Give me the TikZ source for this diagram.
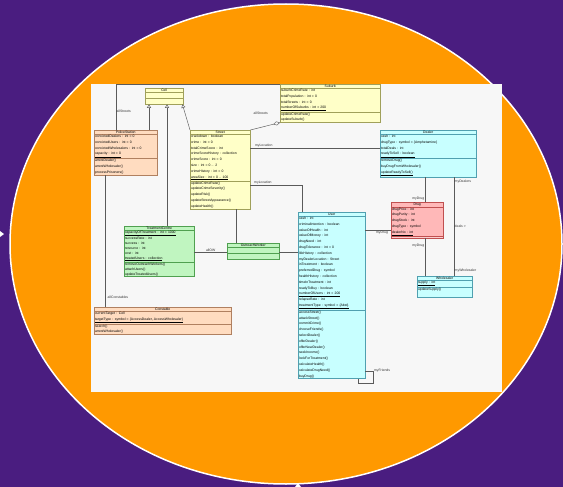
\documentclass[tikz,border=0pt]{standalone}
\usepackage{fontspec}
\newfontfamily\umlsans{Liberation Sans}
\usetikzlibrary{shapes.multipart,arrows.meta}
\definecolor{bgpurple}{RGB}{74,29,128}
\definecolor{ovalorange}{RGB}{255,153,0}
\definecolor{imgbg}{RGB}{247,247,247}
\definecolor{linegray}{RGB}{90,90,90}
\newcommand\umlfont{\umlsans\fontsize{3.4}{5.8}\selectfont}
\newcommand\umldense{\umlsans\fontsize{3.4}{4.9}\selectfont}
\newcommand\umltitle[1]{\makebox[\hsize]{#1}}

\begin{document}
\begin{tikzpicture}[x=1pt,y=-1pt,
    umlclass/.style={rectangle split, rectangle split parts=3, draw, line width=0.4pt,
        anchor=north west, inner xsep=0.8pt, inner ysep=0.6pt, font=\umlfont,
        align=left, text width=#1, rectangle split empty part height=2pt},
    yellowbox/.style={fill={rgb,255:red,255;green,255;blue,200}, draw={rgb,255:red,160;green,160;blue,90}},
    peachbox/.style={fill={rgb,255:red,255;green,220;blue,192}, draw={rgb,255:red,176;green,128;blue,96}},
    cyanbox/.style={fill={rgb,255:red,200;green,255;blue,255}, draw={rgb,255:red,80;green,160;blue,176}},
    greenbox/.style={fill={rgb,255:red,192;green,245;blue,192}, draw={rgb,255:red,80;green,160;blue,80}},
    pinkbox/.style={fill={rgb,255:red,255;green,184;blue,184}, draw={rgb,255:red,192;green,80;blue,80}},
    assoc/.style={draw=linegray, line width=0.45pt},
    inherit/.style={assoc, -{Triangle[open,width=4pt,length=3.5pt]}},
    aggr/.style={assoc, -{Diamond[open,width=4pt,length=7pt]}},
    rolelabel/.style={font=\umlfont, inner sep=0.5pt, text=black!80}]
    \useasboundingbox (0,0) rectangle (563,487);
    \fill[bgpurple] (0,0) rectangle (563,487);
    \draw[white, line width=1.5pt, fill=ovalorange] (286,244) ellipse [x radius=276pt, y radius=240pt];
    \fill[white] (0,231) -- (4,234) -- (0,237) -- cycle;
    \fill[white] (295,487) -- (298,483) -- (301,487) -- cycle;
    \fill[imgbg] (91,84) rectangle (502,392);

    % classes
    \node[umlclass=36.4pt, yellowbox] (cell) at (145,88) {\umltitle{Cell}};
    \node[umlclass=61.4pt, peachbox] (ps) at (94,130) {\umltitle{PoliceStation}
        \nodepart{two} convictedDealers : int = 0\\ convictedUsers : int = 0\\
        convictedWholesalers : int = 0\\ \underline{capacity : int = 0}
        \nodepart{three} arrestDealer()\\ arrestWholesaler()\\ processPrisoners()};
    \node[umlclass=98.4pt, yellowbox] (sub) at (280,84) {\umltitle{Suburb}
        \nodepart{two} suburbCrimeRate : int\\ totalPopulation : int = 0\\
        totalStreets : int = 0\\ \underline{numberOfSuburbs : int = 200}
        \nodepart{three} updateCrimeRate()\\ updateSuburb()};
    \node[umlclass=58.4pt, yellowbox] (str) at (190,130) {\umltitle{Street}
        \nodepart{two} crackdown : boolean\\ crime : int = 0\\ totalCrimeScore : int\\
        crimeScoreHistory : collection\\ crimeScore : int = 0\\ size : int = 0 .. 2\\
        crimeHistory : int = 0\\ \underline{areaSize : int = 0 .. 100}
        \nodepart{three} updateCrimeRate()\\ updateCrimeSeverity()\\ updateRisk()\\
        updateStreetAppearance()\\ updateHealth()};
    \node[umlclass=94.4pt, cyanbox] (dea) at (380,130) {\umltitle{Dealer}
        \nodepart{two} cash : int\\ drugType : symbol = \{Amphetamine\}\\ totalDeals : int\\
        \underline{readyToSell : boolean}
        \nodepart{three} removeDrug()\\ buyDrugFromWholesaler()\\ \underline{updateReadyToSell()}};
    \node[umlclass=50.4pt, pinkbox, rectangle split empty part height=8pt] (drug) at (391,202) {\umltitle{Drug}
        \nodepart{two} drugPrice : int\\ drugPurity : int\\ drugStock : int\\
        drugType : symbol\\ \underline{dealerNo : int}
        \nodepart{three}};
    \node[umlclass=53.4pt, cyanbox] (whs) at (417,276) {\umltitle{Wholesaler}
        \nodepart{two} \underline{supply : int}
        \nodepart{three} updateSupply()\\ \mbox{}};
    \node[umlclass=65.4pt, cyanbox] (user) at (298,212) {\umltitle{User}
        \nodepart{two} cash : int\\ criminalIntention : boolean\\ valueOfHealth : int\\
        valueOfMoney : int\\ drugNeed : int\\ drugTolerance : int = 0\\ lifeHistory : collection\\
        myDealerLocation : Street\\ inTreatment : boolean\\ preferredDrug : symbol\\
        healthHistory : collection\\ timeInTreatment : int\\ readyToBuy : boolean\\
        \underline{numberOfUsers : int = 200}\\ relapseRate : int\\
        \underline{treatmentType : symbol = \{Abst\}}
        \nodepart{three} accessStreet()\\ attackStreet()\\ commitCrime()\\ chooseFriends()\\
        selectDealer()\\ offerDealer()\\ offerNewDealer()\\ seekIncome()\\ lookForTreatment()\\
        calculateHealth()\\ calculateDrugNeed()\\ buyDrug()};
    \node[umlclass=68.4pt, greenbox, font=\umldense] (tc) at (124,226) {\umltitle{TreatmentCentre}
        \nodepart{two} \underline{capacityOfTreatment : int = 1000}\\ successRate : int\\
        success : int\\ resource : int\\ cost : int\\ \underline{treatedUsers : collection}
        \nodepart{three} removeOutreachWorkers()\\ attachUsers()\\ updateTreatedUsers()};
    \node[umlclass=50.4pt, greenbox, rectangle split empty part height=4.5pt] (ow) at (227,243) {\umltitle{OutreachWorker}};
    \node[umlclass=135.4pt, peachbox] (con) at (94,307) {\umltitle{Constable}
        \nodepart{two} currentTarget : Cell\\
        \underline{targetType : symbol = \{AccessDealer, AccessWholesaler\}}
        \nodepart{three} search()\\ arrestWholesaler()};

    % inheritance
    \draw[inherit] ([xshift=55pt]ps.north west) -- ([xshift=4pt]cell.south west);
    \draw[inherit] ([xshift=43pt]tc.north west) -- ([xshift=22pt]cell.south west);
    \draw[inherit] (str.north west) -- ([xshift=-1pt]cell.south east);

    % associations
    \draw[assoc] ([xshift=22pt]ps.north west) |- (sub.north west)
        node[rolelabel, pos=0.2, right] {allStreets};
    \draw[aggr] (str.north east) -- (sub.south west)
        node[rolelabel, pos=0.35, above=12pt] {allStreets};
    \draw[assoc] ([yshift=-18pt]str.north east) -- ([yshift=-18pt]dea.north west)
        node[rolelabel, pos=0.03, above right] {myLocation};
    \draw[assoc] ([yshift=-55pt]str.north east) -| ([xshift=4pt]user.north west)
        node[rolelabel, pos=0.03, above right] {myLocation};
    \draw[assoc] ([xshift=46pt]str.south west) -- ([xshift=9pt]ow.north west);
    \draw[assoc] ([yshift=-26pt]tc.north east) -- ([yshift=-9pt]ow.north west)
        node[rolelabel, midway, above] {allOW};
    \draw[assoc] ([yshift=-9pt]ow.north east) -- ([yshift=-40pt]user.north west);
    \draw[assoc] ([yshift=-18pt]user.north east) -- ([yshift=-28pt]drug.north west)
        node[rolelabel, pos=0.65, below] {myDrug};
    \draw[assoc] ([xshift=45pt]dea.south west) -- ([xshift=34pt]drug.north west)
        node[rolelabel, pos=0.85, left] {myDrug};
    \draw[assoc] ([xshift=34pt]drug.south west) -- ([xshift=8pt]whs.north west)
        node[rolelabel, pos=0.2, left] {myDrug};
    \draw[assoc] ([xshift=74pt]dea.south west) -- ([xshift=37pt]whs.north west)
        node[rolelabel, pos=0.05, right] {myDealers}
        node[rolelabel, pos=0.5, right] {deals >}
        node[rolelabel, pos=0.95, right] {myWholesaler};
    \draw[assoc] ([xshift=11pt]ps.south west) -- ([xshift=11pt]con.north west)
        node[rolelabel, pos=0.93, right=2pt] {allConstables};
    \draw[assoc] ([yshift=-159pt]user.north east) -- ++(8,0) node[rolelabel, right] {myFriends}
        |- ([xshift=-7pt,yshift=-5pt]user.south east) -- ([xshift=-7pt]user.south east);
\end{tikzpicture}
\end{document}
